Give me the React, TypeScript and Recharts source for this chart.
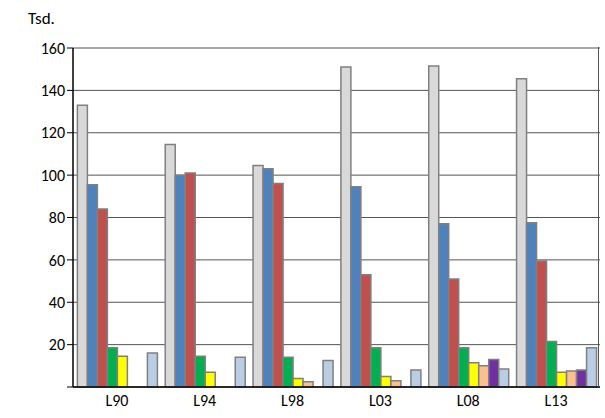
import { BarChart, Bar, XAxis, YAxis, CartesianGrid } from "recharts";

const categories = ["L90", "L94", "L98", "L03", "L08", "L13"];
const grey = [133, 114.5, 104.5, 151, 151.5, 145.5];
const blue = [95.5, 100, 103, 94.5, 77, 77.5];
const red = [84, 101, 96, 53, 51, 59.5];
const green = [18.5, 14.5, 14, 18.5, 18.5, 21.5];
const yellow = [14.5, 7, 4, 5, 11.5, 7];
const peach = [0, 0, 2.5, 3, 10, 7.5];
const purple = [0, 0, 0, 0, 13, 8];
const lightBlue = [16, 14, 12.5, 8, 8.5, 18.5];
const yTicks = [0, 20, 40, 60, 80, 100, 120, 140, 160];

const series = [
  { key: "grey", values: grey, color: "#d9d9d9" },
  { key: "blue", values: blue, color: "#4f81bd" },
  { key: "red", values: red, color: "#c0504d" },
  { key: "green", values: green, color: "#00b050" },
  { key: "yellow", values: yellow, color: "#ffff00" },
  { key: "peach", values: peach, color: "#fac090" },
  { key: "purple", values: purple, color: "#7030a0" },
  { key: "lightBlue", values: lightBlue, color: "#b9cde5" },
];

const data = categories.map((c, i) => {
  const row: Record<string, number | string> = { name: c };
  series.forEach((s) => (row[s.key] = s.values[i]));
  return row;
});

export default function App() {
  return (
    <div style={{ position: "absolute", left: 0, top: 0, width: 605, height: 418, background: "#fff", fontFamily: "Carlito, 'Open Sans', sans-serif" }}>
      <div style={{ position: "absolute", left: 28, top: 8, fontSize: 17 }}>Tsd.</div>
      <BarChart width={605} height={418} data={data} margin={{ top: 48, right: 5, bottom: 1, left: 8 }} barCategoryGap="5%" barGap={0}>
        <CartesianGrid vertical={false} stroke="#555555" strokeWidth={1} strokeOpacity={1} />
        <XAxis dataKey="name" tickLine={false} axisLine={{ stroke: "#000", strokeWidth: 1.5 }} tick={{ fill: "#000", fontSize: 16 }} />
        <YAxis domain={[0, 160]} ticks={yTicks} width={65} tickFormatter={(v) => (v === 0 ? "" : String(v))} axisLine={{ stroke: "#000", strokeWidth: 1.5 }} tickLine={{ stroke: "#000" }} tick={{ fill: "#000", fontSize: 16 }} />
        {series.map((s) => (
          <Bar key={s.key} dataKey={s.key} fill={s.color} stroke="#808080" strokeWidth={1.5} isAnimationActive={false} />
        ))}
      </BarChart>
      <div style={{ position: "absolute", left: 598, top: 47, width: 1, height: 340, background: "#555" }} />
    </div>
  );
}
